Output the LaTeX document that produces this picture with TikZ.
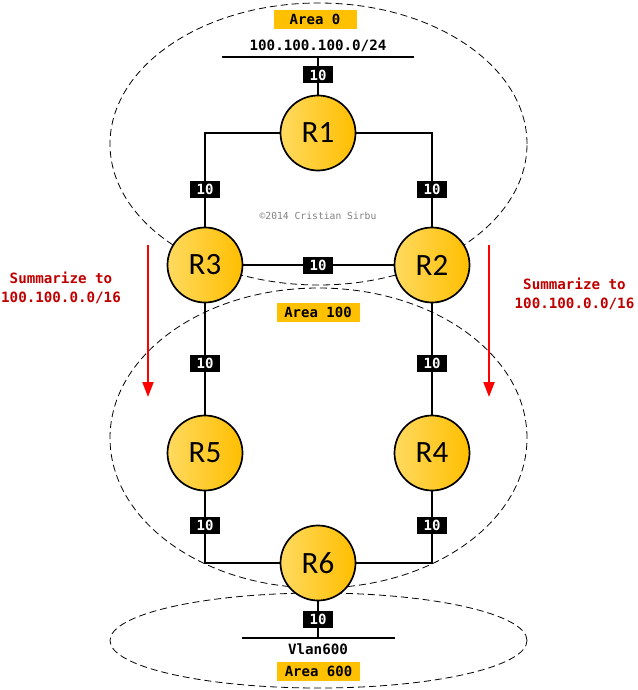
\documentclass[tikz,border=0pt]{standalone}
\usepackage{fontspec}
\setmainfont{Carlito}
\newfontfamily\labfont{DejaVu Sans Mono}
\usetikzlibrary{arrows.meta}
\definecolor{rtrlight}{RGB}{255,218,96}
\definecolor{rtrdark}{RGB}{255,190,0}
\definecolor{areafill}{RGB}{255,192,0}
\definecolor{sumred}{RGB}{192,0,0}
\definecolor{copygray}{RGB}{128,128,128}
\tikzset{
  router/.style={circle, draw=black, line width=1.7pt, minimum size=75pt, inner sep=0pt,
    left color=rtrlight, right color=rtrdark, font=\fontsize{31}{31}\selectfont},
  cost/.style={fill=black, text=white, minimum width=30pt, minimum height=17pt, inner sep=0pt,
    font=\labfont\bfseries\fontsize{14}{14}\selectfont},
  areabox/.style={fill=areafill, minimum width=83pt, minimum height=19pt, inner sep=0pt,
    font=\labfont\bfseries\fontsize{14}{14}\selectfont},
  netlabel/.style={font=\labfont\bfseries\fontsize{14.2}{14}\selectfont},
  link/.style={line width=1.6pt},
  arealine/.style={dash pattern=on 7pt off 4pt, line width=0.8pt},
  sumarrow/.style={red, line width=2pt, -{Triangle[length=15pt,width=11pt]}},
  sumtext/.style={text=sumred, align=center, font=\labfont\bfseries\fontsize{14.2}{18.5}\selectfont}
}
\begin{document}
\begin{tikzpicture}[x=1pt,y=-1pt]
\useasboundingbox (0,0) rectangle (637,690);
% areas
\draw[arealine] (318.5,144) ellipse [x radius=208.5pt, y radius=141pt];
\draw[arealine] (318.5,438) ellipse [x radius=208.5pt, y radius=150pt];
\draw[arealine] (318.5,640.5) ellipse [x radius=208.5pt, y radius=47.5pt];
% networks
\coordinate (lan0w) at (222,57);
\coordinate (lan0e) at (414,57);
\coordinate (lan0) at (318,57);
\coordinate (vlanw) at (242,638);
\coordinate (vlane) at (395,638);
\coordinate (vlan) at (318,638);
\draw[link] (lan0w) -- (lan0e);
\draw[link] (vlanw) -- (vlane);
% routers
\node[router] (r1) at (318,133) {R1};
\node[router] (r3) at (205,265) {R3};
\node[router] (r2) at (432,265) {R2};
\node[router] (r5) at (205,453) {R5};
\node[router] (r4) at (432,453) {R4};
\node[router] (r6) at (318,563) {R6};
% links
\draw[link] (r1) -- (lan0);
\draw[link] (r6) -- (vlan);
\draw[link] (r1) -| (r3);
\draw[link] (r1) -| (r2);
\draw[link] (r3) -- (r2);
\draw[link] (r3) -- (r5);
\draw[link] (r2) -- (r4);
\draw[link] (r5) |- (r6);
\draw[link] (r4) |- (r6);
% costs
\node[cost] (c1) at (318,75) {10};
\node[cost] (c13) at (205,189) {10};
\node[cost] (c12) at (432,189) {10};
\node[cost] (c32) at (318,265) {10};
\node[cost] (c35) at (205,363) {10};
\node[cost] (c24) at (432,363) {10};
\node[cost] (c56) at (205,525) {10};
\node[cost] (c46) at (432,525) {10};
\node[cost] (c6) at (318,619) {10};
% labels
\node[areabox] (a0) at (315,19.5) {Area 0};
\node[areabox] (a100) at (318,312) {Area 100};
\node[areabox] (a600) at (318.5,671.5) {Area 600};
\node[netlabel] (lan0txt) at (318,46) {100.100.100.0/24};
\node[netlabel] (vlantxt) at (318,649) {Vlan600};
\node[text=copygray, font=\labfont\fontsize{9.7}{10}\selectfont] (copy) at (318,216) {©2014 Cristian Sirbu};
% summarization
\coordinate (sumlt) at (148,245);
\coordinate (sumlb) at (148,397);
\coordinate (sumrt) at (489,245);
\coordinate (sumrb) at (489,397);
\draw[sumarrow] (sumlt) -- (sumlb);
\draw[sumarrow] (sumrt) -- (sumrb);
\node[sumtext] (suml) at (61,288) {Summarize to\\100.100.0.0/16};
\node[sumtext] (sumr) at (574.5,294) {Summarize to\\100.100.0.0/16};
\end{tikzpicture}
\end{document}
